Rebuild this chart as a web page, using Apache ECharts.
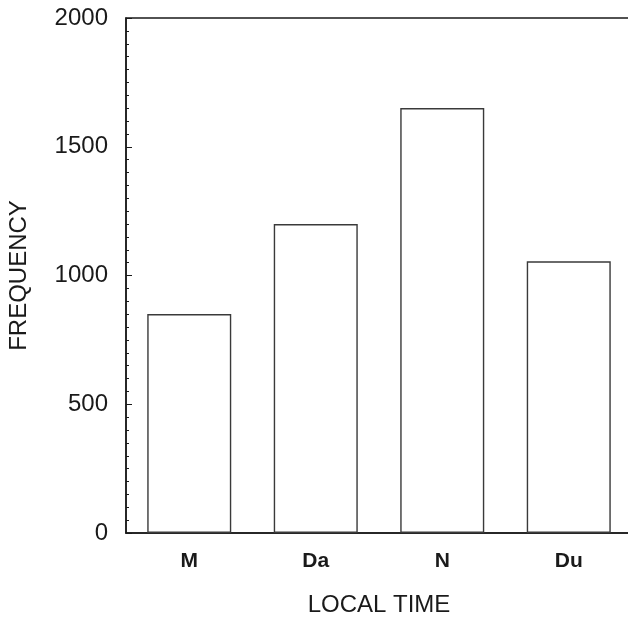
<!doctype html>
<html lang="en">
<head>
    <meta charset="UTF-8">
    <title>Frequency by local time</title>
    <script src="https://cdn.jsdelivr.net/npm/echarts@6/dist/echarts.min.js"></script>
    <style>
        html, body { margin: 0; padding: 0; background: #fff; }
        #main { width: 628px; height: 618px; }
    </style>
</head>
<body>
<div id="main"></div>
<script>
    // data
    var categories = ['M', 'Da', 'N', 'Du'];
    var frequency = [850, 1200, 1650, 1055];
    var yTicks = [0, 500, 1000, 1500, 2000];

    var font = '"Liberation Sans", Arial, Helvetica, sans-serif';
    var ink = '#1a1a1a';

    var myChart = echarts.init(document.getElementById('main'));
    var option = {
        backgroundColor: '#fff',
        animation: false,
        // plot runs past the right edge of the picture, like the scan
        grid: {
            left: 126, width: 506, top: 18, bottom: 85,
            outerBoundsMode: 'none',
            containLabel: false,
            show: true, borderColor: ink, borderWidth: 1.5, backgroundColor: 'transparent'
        },
        xAxis: {
            type: 'category',
            data: categories,
            name: 'LOCAL TIME',
            nameLocation: 'middle',
            nameGap: 60,
            nameTextStyle: { fontFamily: font, fontSize: 24, color: ink },
            axisLine: { lineStyle: { color: ink, width: 1.5 } },
            axisTick: { show: false },
            axisLabel: { fontFamily: font, fontSize: 21, fontWeight: 'bold', color: ink, margin: 18 }
        },
        yAxis: {
            type: 'value',
            min: yTicks[0],
            max: yTicks[yTicks.length - 1],
            interval: 500,
            name: 'FREQUENCY',
            nameLocation: 'middle',
            nameGap: 95,
            nameTextStyle: { fontFamily: font, fontSize: 24, color: ink },
            axisLine: { show: true, lineStyle: { color: ink, width: 1.5 } },
            axisTick: { show: true, inside: true, length: 6, lineStyle: { color: ink } },
            minorTick: { show: true, splitNumber: 10, length: 3, lineStyle: { color: ink } },
            splitLine: { show: false },
            axisLabel: {
                fontFamily: font, fontSize: 24, color: ink, margin: 18,
                formatter: function (v) { return String(v); }
            }
        },
        series: [{
            type: 'bar',
            data: frequency,
            barWidth: 84,
            itemStyle: { color: '#fff', borderColor: '#3a3a3a', borderWidth: 1.4 }
        }]
    };
    myChart.setOption(option);
</script>
</body>
</html>
